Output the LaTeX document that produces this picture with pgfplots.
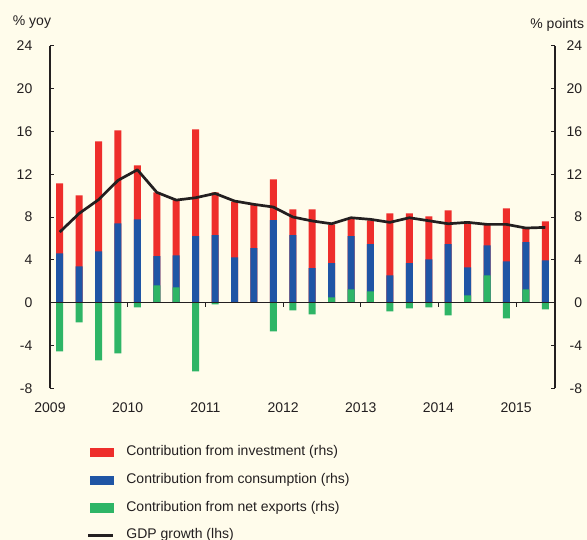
\documentclass[border=0pt]{standalone}
\usepackage{fontspec}
\setmainfont{Liberation Sans}
\usepackage{pgfplots}
\pgfplotsset{compat=1.18}
\usepackage{pgfplotstable}
\definecolor{bg}{RGB}{255,252,235}
\definecolor{cred}{RGB}{238,46,43}
\definecolor{cblue}{RGB}{31,85,165}
\definecolor{cgreen}{RGB}{46,181,102}
\definecolor{ctext}{RGB}{35,31,32}
\newcommand{\cf}{\fontsize{14bp}{17bp}\selectfont}
% tot = top of investment bar (total), blue = top of consumption segment,
% gpos / gneg = net exports contribution (positive / negative part), gdp = GDP growth
\pgfplotstableread{
x tot blue gpos gneg gdp
2009.125 11.14 4.60 0 -4.55 6.59
2009.375 10.02 3.39 0 -1.84 8.33
2009.625 15.06 4.79 0 -5.39 9.62
2009.875 16.09 7.40 0 -4.73 11.42
2010.125 12.82 7.77 0 -0.44 12.41
2010.375 10.30 4.35 1.62 0 10.30
2010.625 9.58 4.41 1.43 0 9.58
2010.875 16.18 6.22 0 -6.41 9.80
2011.125 10.30 6.31 0 -0.16 10.20
2011.375 9.43 4.23 0.05 0 9.49
2011.625 9.11 5.10 0.05 0 9.18
2011.875 11.51 7.71 0 -2.68 8.93
2012.125 8.71 6.31 0 -0.72 8.00
2012.375 8.71 3.23 0 -1.09 7.63
2012.625 7.31 3.70 0.50 0 7.37
2012.875 7.90 6.22 1.24 0 7.93
2013.125 7.68 5.47 1.05 0 7.78
2013.375 8.34 2.55 0 -0.81 7.50
2013.625 8.34 3.70 0 -0.53 7.93
2013.875 8.06 4.04 0 -0.44 7.65
2014.125 8.62 5.47 0 -1.18 7.37
2014.375 7.43 3.30 0.68 0 7.50
2014.625 7.31 5.35 2.55 0 7.31
2014.875 8.80 3.86 0 -1.46 7.31
2015.125 6.90 5.66 1.24 0 6.97
2015.375 7.59 3.95 0 -0.62 7.03
}\data
\begin{document}
\begin{tikzpicture}
\fill[bg] (-50bp,-151.7bp) rectangle (537bp,388.3bp);
\begin{axis}[at={(0,0)}, anchor=south west, scale only axis,
  width=505bp, height=342.6bp,
  xmin=2009, xmax=2015.5, ymin=-8, ymax=24,
  axis x line=none, axis y line*=left,
  ytick={-8,-4,0,4,8,12,16,20,24},
  yticklabels={-8,-4,0,4,8,12,16,20,24},
  tick align=inside, major tick length=4.5bp,
  every tick/.style={ctext, line width=1bp},
  y axis line style={ctext, line width=1.2bp},
  yticklabel style={font=\cf, text=ctext, inner sep=0pt, anchor=east, xshift=-17.5bp},
  clip=false,
  legend style={draw=none, fill=none, inner sep=0pt, outer sep=0pt,
    at={(axis description cs:0.0735,-0.168)}, anchor=north west,
    row sep=14.6bp, column sep=0pt,
    nodes={inner sep=0pt, font=\cf, text=ctext, text height=10bp, text depth=3bp}},
  legend cell align=left,
]
\addlegendimage{legend image code/.code={\fill[cred] (0bp,-4.2bp) rectangle (23bp,4.2bp); \path (35.7bp,0bp);}}
\addlegendentry{Contribution from investment (rhs)}
\addlegendimage{legend image code/.code={\fill[cblue] (0bp,-4.2bp) rectangle (23bp,4.2bp); \path (35.7bp,0bp);}}
\addlegendentry{Contribution from consumption (rhs)}
\addlegendimage{legend image code/.code={\fill[cgreen] (0bp,-4.2bp) rectangle (23bp,4.2bp); \path (35.7bp,0bp);}}
\addlegendentry{Contribution from net exports (rhs)}
\addlegendimage{legend image code/.code={\draw[ctext, line width=2.7bp] (-2bp,0bp) -- (23bp,0bp); \path (35.7bp,0bp);}}
\addlegendentry{GDP growth (lhs)}

\addplot[ybar, bar width=7bp, fill=cred, draw=none, forget plot] table[x=x, y=tot]{\data};
\addplot[ybar, bar width=7bp, fill=cblue, draw=none, forget plot] table[x=x, y=blue]{\data};
\addplot[ybar, bar width=7bp, fill=cgreen, draw=none, forget plot] table[x=x, y=gpos]{\data};
\addplot[ybar, bar width=7bp, fill=cgreen, draw=none, forget plot] table[x=x, y=gneg]{\data};
\addplot[ctext, line width=1.2bp, forget plot] coordinates {(2009,0) (2015.5,0)};
\addplot[ycomb, ctext, line width=1bp, forget plot] coordinates {(2010,-0.45) (2011,-0.45) (2012,-0.45) (2013,-0.45) (2014,-0.45) (2015,-0.45)};
\addplot[ctext, line width=2.7bp, line join=round, forget plot] table[x=x, y=gdp]{\data};
\end{axis}
\begin{axis}[at={(0,0)}, anchor=south west, scale only axis,
  width=505bp, height=342.6bp,
  xmin=2009, xmax=2015.5, ymin=-8, ymax=24,
  axis y line*=right, axis x line*=bottom,
  x axis line style={draw=none},
  y axis line style={ctext, line width=1.2bp},
  ytick={-8,-4,0,4,8,12,16,20,24},
  yticklabels={-8,-4,0,4,8,12,16,20,24},
  xtick={2009,2010,2011,2012,2013,2014,2015},
  xticklabels={2009,2010,2011,2012,2013,2014,2015},
  tick align=inside, major tick length=4.5bp,
  every tick/.style={ctext, line width=1bp},
  major x tick style={draw=none},
  yticklabel style={font=\cf, text=ctext, inner sep=0pt, anchor=east, xshift=27.3bp},
  xticklabel style={font=\cf, text=ctext, inner sep=0pt, anchor=north, yshift=-14.7bp},
]
\addplot[draw=none] coordinates {(2010,0)};
\end{axis}
\node[anchor=base west, inner sep=0pt, font=\cf, text=ctext] at (-37.3bp,362.3bp) {\% yoy};
\node[anchor=base east, inner sep=0pt, font=\cf, text=ctext] at (534.3bp,359.3bp) {\% points};
\pgfresetboundingbox
\path[use as bounding box] (-50bp,-151.7bp) rectangle (537bp,388.3bp);
\end{tikzpicture}
\end{document}
